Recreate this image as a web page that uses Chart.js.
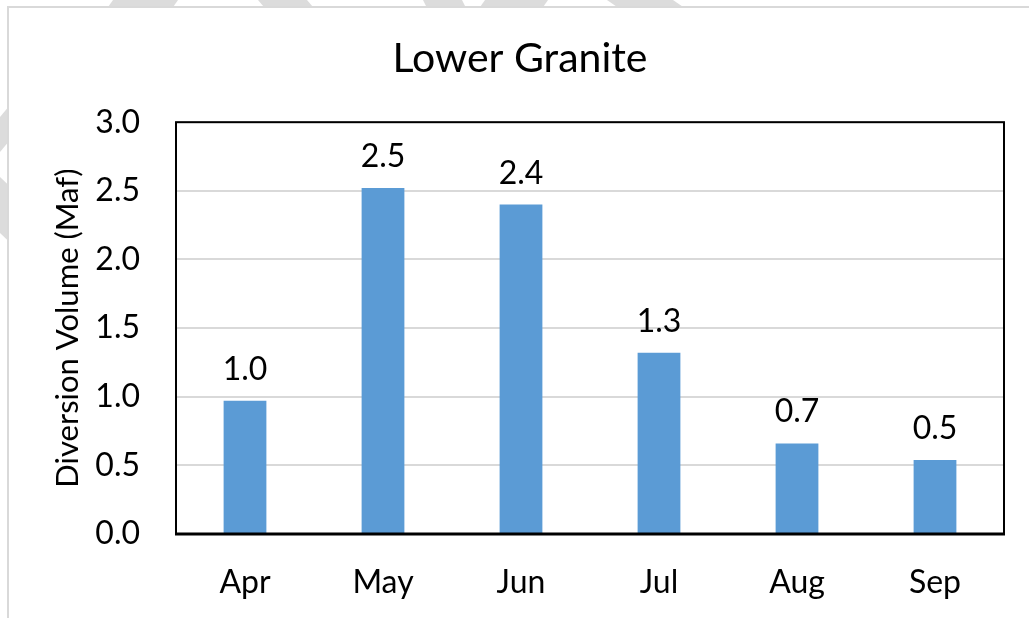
<!DOCTYPE html>
<html>
<head>
<meta charset="utf-8">
<script src="https://cdn.jsdelivr.net/npm/chart.js@4/dist/chart.umd.min.js"></script>
<style>
  html, body { margin: 0; padding: 0; background: #ffffff; overflow: hidden; }
  #wrap { position: absolute; left: 0; top: 0; width: 1029px; height: 618px; }
</style>
</head>
<body>
<div id="wrap"><canvas id="c" width="1029" height="618"></canvas></div>
<script>
const chartTitle = "Lower Granite";
const yAxisTitle = "Diversion Volume (Maf)";
const months = ["Apr", "May", "Jun", "Jul", "Aug", "Sep"];
const diversionVolume = [0.97, 2.52, 2.40, 1.32, 0.66, 0.54];
const yTicks = [0.0, 0.5, 1.0, 1.5, 2.0, 2.5, 3.0];

const FONT = "Lato, 'Open Sans', 'DejaVu Sans', sans-serif";

// page decoration: light watermark bands + chart frame
const backgroundPlugin = {
  id: 'pageBackground',
  beforeDraw(chart) {
    const ctx = chart.ctx;
    const W = chart.width, H = chart.height;
    ctx.save();
    ctx.fillStyle = '#ffffff';
    ctx.fillRect(0, 0, W, H);
    ctx.fillStyle = '#dcdcdc';
    const bands = [
      [[113,0],[178,0],[164,20],[99,20]],
      [[258,0],[307,0],[324,20],[275,20]],
      [[423,0],[462,0],[472,20],[433,20]],
      [[485,0],[548,0],[534,20],[471,20]],
      [[607,0],[673,0],[702,20],[636,20]],
      [[0,117],[0,152],[20,128],[20,93]],
      [[0,177],[0,233],[20,252],[20,196]]
    ];
    bands.forEach(p => {
      ctx.beginPath();
      ctx.moveTo(p[0][0], p[0][1]);
      for (let i = 1; i < p.length; i++) ctx.lineTo(p[i][0], p[i][1]);
      ctx.closePath();
      ctx.fill();
    });
    ctx.fillStyle = '#ffffff';
    ctx.fillRect(8, 7, W - 8, H - 7);
    ctx.strokeStyle = '#d9d9d9';
    ctx.lineWidth = 2;
    ctx.beginPath();
    ctx.moveTo(8, H);
    ctx.lineTo(8, 7);
    ctx.lineTo(W, 7);
    ctx.stroke();
    ctx.restore();
  }
};

// black frame around plot area + vertical axis title
const framePlugin = {
  id: 'plotFrame',
  afterDatasetsDraw(chart) {
    const {ctx, chartArea: a} = chart;
    ctx.save();
    ctx.strokeStyle = '#000000';
    ctx.lineWidth = 2;
    ctx.strokeRect(a.left, a.top, a.right - a.left, a.bottom - a.top);
    ctx.lineWidth = 3;
    ctx.beginPath();
    ctx.moveTo(a.left - 1, a.bottom);
    ctx.lineTo(a.right + 1, a.bottom);
    ctx.stroke();
    // axis title
    ctx.translate(68, (a.top + a.bottom) / 2);
    ctx.rotate(-Math.PI / 2);
    ctx.font = "31px " + FONT;
    ctx.fillStyle = '#000000';
    ctx.textAlign = 'center';
    ctx.textBaseline = 'middle';
    ctx.fillText(yAxisTitle, 0, 0);
    ctx.restore();
  }
};

// value labels above bars
const valueLabelPlugin = {
  id: 'valueLabels',
  afterDatasetsDraw(chart) {
    const ctx = chart.ctx;
    const meta = chart.getDatasetMeta(0);
    const data = chart.data.datasets[0].data;
    ctx.save();
    ctx.font = "32px " + FONT;
    ctx.fillStyle = '#000000';
    ctx.textAlign = 'center';
    ctx.textBaseline = 'alphabetic';
    meta.data.forEach((bar, i) => {
      ctx.fillText(data[i].toFixed(1), bar.x, bar.y - 21);
    });
    ctx.restore();
  }
};

new Chart(document.getElementById('c'), {
  type: 'bar',
  data: {
    labels: months,
    datasets: [{
      data: diversionVolume,
      backgroundColor: '#5b9bd5',
      borderWidth: 0,
      categoryPercentage: 1.0,
      barPercentage: 0.31
    }]
  },
  options: {
    responsive: false,
    animation: false,
    devicePixelRatio: 1,
    layout: { padding: { left: 36, right: 25, top: 20, bottom: 0 } },
    plugins: {
      legend: { display: false },
      tooltip: { enabled: false },
      title: {
        display: true,
        text: chartTitle,
        color: '#000000',
        font: { family: FONT, size: 41, weight: 'normal', lineHeight: 1.2 },
        padding: { top: 14, bottom: 39 }
      }
    },
    scales: {
      x: {
        grid: { display: false, drawTicks: false },
        border: { display: false },
        ticks: {
          color: '#000000',
          font: { family: FONT, size: 32 },
          padding: 29,
          maxRotation: 0
        },
        afterFit(s) { s.height = 84; }
      },
      y: {
        min: 0,
        max: 3,
        afterBuildTicks(s) { s.ticks = yTicks.map(v => ({ value: v })); },
        grid: { color: '#d9d9d9', lineWidth: 2, drawTicks: false },
        border: { display: false },
        ticks: {
          color: '#000000',
          font: { family: FONT, size: 32 },
          padding: 36,
          callback: v => Number(v).toFixed(1)
        },
        afterFit(s) { s.width = 140; }
      }
    }
  },
  plugins: [backgroundPlugin, valueLabelPlugin, framePlugin]
});
</script>
</body>
</html>
